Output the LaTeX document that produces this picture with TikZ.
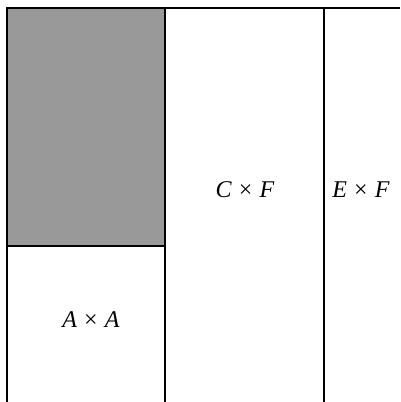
\documentclass[tikz,border=0pt]{standalone}
\usepackage{fontspec}
\setmainfont{Liberation Serif}
\usetikzlibrary{positioning}

\begin{document}
\begin{tikzpicture}[
	x=1pt, y=-1pt,
	every node/.style={font=\fontsize{24}{28}\selectfont\itshape, inner sep=0pt},
	wall/.style={line width=2pt, black},
	shaded/.style={fill=black!40}
]
\useasboundingbox (0,0) rectangle (400,402);

% shaded block and frame
\fill[shaded] (7,8) rectangle (165,246);
\draw[wall] (7,402) -- (7,8) -- (400,8);
\draw[wall] (7,246) -- (165,246);
\draw[wall] (165,8) -- (165,402);
\draw[wall] (324,8) -- (324,402);

% labels
\node (cf) at (245,190) {C\hspace{0.3em}\upshape×\hspace{0.3em}\itshape F};
\node (ef) at (361,190) {E\hspace{0.3em}\upshape×\hspace{0.3em}\itshape F};
\node (aa) at (91,320) {A\hspace{0.3em}\upshape×\hspace{0.3em}\itshape A};

\end{tikzpicture}
\end{document}
